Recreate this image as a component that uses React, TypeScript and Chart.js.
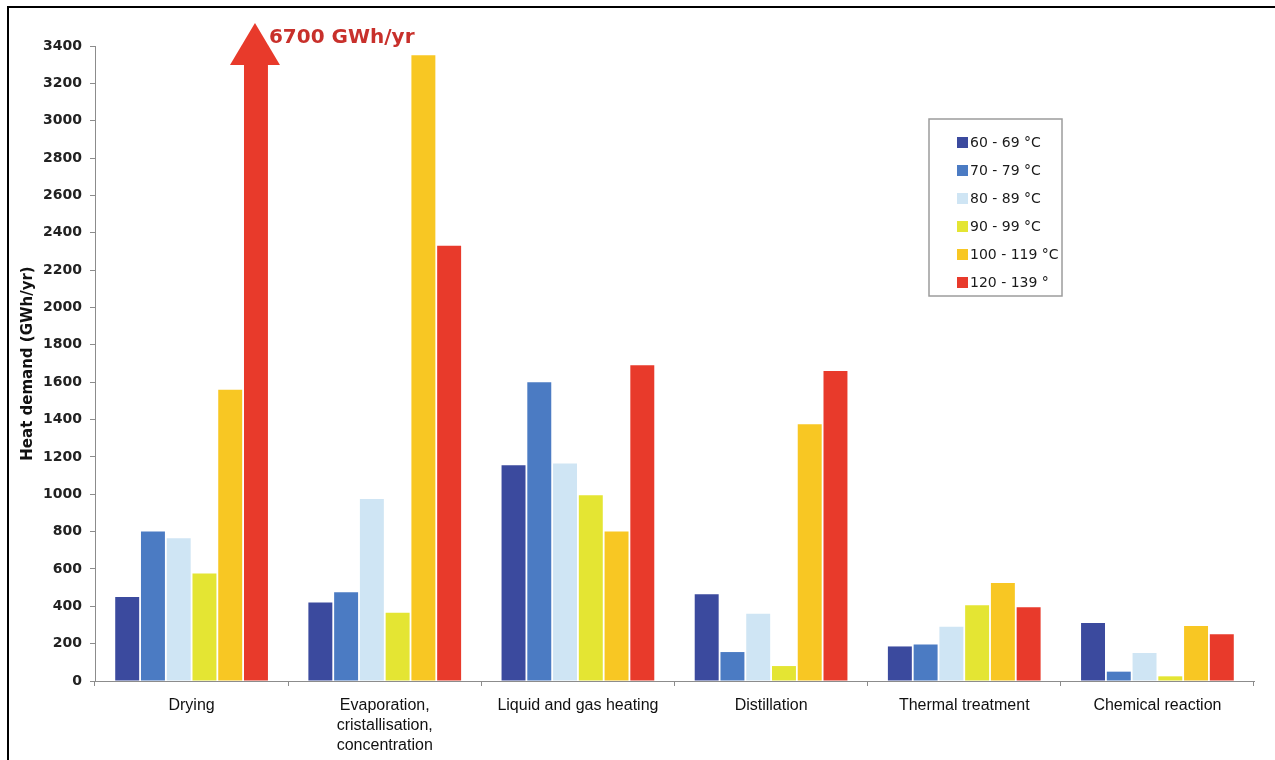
import React, { useEffect, useRef } from 'react';
import { Chart, registerables } from 'chart.js';

Chart.register(...registerables);

const categories: string[][] = [
  ['Drying'],
  ['Evaporation,', 'cristallisation,', 'concentration'],
  ['Liquid and gas heating'],
  ['Distillation'],
  ['Thermal treatment'],
  ['Chemical reaction'],
];
const seriesLabels = ['60 - 69 °C', '70 - 79 °C', '80 - 89 °C', '90 - 99 °C', '100 - 119 °C', '120 - 139 °'];
const seriesColors = ['#3b4a9e', '#4b7bc3', '#cfe5f4', '#e4e533', '#f8c723', '#e83a2b'];
const t60 = [450, 420, 1155, 465, 185, 310];
const t70 = [800, 475, 1600, 155, 195, 50];
const t80 = [765, 975, 1165, 360, 290, 150];
const t90 = [575, 365, 995, 80, 405, 25];
const t100 = [1560, 3350, 800, 1375, 525, 295];
const t120 = [6700, 2330, 1690, 1660, 395, 250];
const seriesValues = [t60, t70, t80, t90, t100, t120];
const yMax = 3400;
const yStep = 200;
const yTitle = 'Heat demand (GWh/yr)';
const unit = 'GWh/yr';

const extrasPlugin = {
  id: 'extras',
  afterDatasetsDraw(chart: any) {
    const ctx = chart.ctx;
    const area = chart.chartArea;
    // overflow arrow for the off-scale bar
    const meta = chart.getDatasetMeta(5);
    const bar = meta.data[0];
    if (bar) {
      const p = bar.getProps(['x', 'width'], true);
      const cx = p.x - 1;
      ctx.save();
      ctx.fillStyle = seriesColors[5];
      ctx.beginPath();
      ctx.moveTo(cx, area.top - 23);
      ctx.lineTo(cx + 25, area.top + 19);
      ctx.lineTo(cx - 25, area.top + 19);
      ctx.closePath();
      ctx.fill();
      ctx.font = 'bold 20px "DejaVu Sans"';
      ctx.fillStyle = '#c8302b';
      ctx.textBaseline = 'alphabetic';
      ctx.textAlign = 'left';
      ctx.fillText(`${t120[0]} ${unit}`, p.x + p.width / 2 + 1, area.top - 3);
      ctx.restore();
    }
  },
  afterDraw(chart: any) {
    const ctx = chart.ctx;
    ctx.save();
    // legend
    const lx = 929, ly = 119, lw = 133, lh = 177;
    ctx.strokeStyle = '#9c9c9c';
    ctx.lineWidth = 1.5;
    ctx.strokeRect(lx, ly, lw, lh);
    ctx.font = '14px "DejaVu Sans"';
    ctx.textBaseline = 'middle';
    ctx.textAlign = 'left';
    seriesLabels.forEach((lab, i) => {
      const y = ly + 23 + i * 28;
      ctx.fillStyle = seriesColors[i];
      ctx.fillRect(957, y - 5, 11, 11);
      ctx.fillStyle = '#1a1a1a';
      ctx.fillText(lab, 970, y + 1);
    });
    // frame
    ctx.fillStyle = '#000';
    ctx.fillRect(7, 6, 2, 760);
    ctx.fillRect(7, 6, 1275, 2);
    ctx.restore();
  },
};

export default function App() {
  const ref = useRef<HTMLCanvasElement | null>(null);
  useEffect(() => {
    if (!ref.current) return;
    const chart = new Chart(ref.current, {
      type: 'bar',
      data: {
        labels: categories,
        datasets: seriesValues.map((vals, i) => ({
          label: seriesLabels[i],
          data: vals,
          backgroundColor: seriesColors[i],
          borderWidth: 0,
          categoryPercentage: 0.8,
          barPercentage: 0.93,
        })),
      },
      options: {
        animation: false,
        responsive: true,
        maintainAspectRatio: false,
        events: [],
        layout: { padding: { top: 46, right: 21, left: 0, bottom: 0 } },
        plugins: { legend: { display: false }, tooltip: { enabled: false } },
        scales: {
          x: {
            afterFit(scale: any) { scale.height = 79; },
            border: { display: true, color: '#8c8c8c', width: 1 },
            grid: { display: true, drawOnChartArea: false, offset: true, tickLength: 5, color: '#8c8c8c' },
            ticks: {
              color: '#111',
              padding: 10,
              maxRotation: 0,
              autoSkip: false,
              font: { family: '"Liberation Sans", Arial, sans-serif', size: 16, lineHeight: 1.25 },
            },
          },
          y: {
            min: 0,
            max: yMax,
            afterFit(scale: any) { scale.width = 95; },
            border: { display: true, color: '#8c8c8c', width: 1 },
            grid: { display: true, drawOnChartArea: false, tickLength: 5, color: '#8c8c8c' },
            ticks: {
              stepSize: yStep,
              color: '#222',
              padding: 8,
              callback: (v: any) => String(v),
              font: { family: '"DejaVu Sans"', size: 14, weight: 'bold' },
            },
            title: {
              display: true,
              text: yTitle,
              color: '#111',
              padding: { top: 19, bottom: 0 },
              font: { family: '"DejaVu Sans"', size: 15, weight: 'bold' },
            },
          },
        },
      },
      plugins: [extrasPlugin],
    } as any);
    return () => chart.destroy();
  }, []);
  return (
    <div style={{ position: 'absolute', left: 0, top: 0, width: 1275, height: 760, background: '#fff' }}>
      <canvas ref={ref} />
    </div>
  );
}
